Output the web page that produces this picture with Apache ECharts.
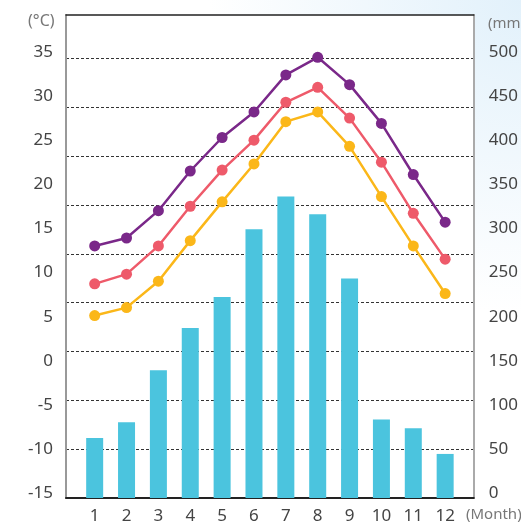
<!DOCTYPE html>
<html>
<head>
<meta charset="utf-8">
<script src="https://cdn.jsdelivr.net/npm/echarts@6/dist/echarts.min.js"></script>
<style>
  html, body { margin: 0; padding: 0; background: #fff; }
  #app { width: 521px; height: 531px; }
</style>
</head>
<body>
<div id="app"></div>
<script>
var months = [1, 2, 3, 4, 5, 6, 7, 8, 9, 10, 11, 12];
var tempHigh = [13.6, 14.5, 17.6, 22.1, 25.9, 28.8, 33.0, 35.0, 31.9, 27.5, 21.7, 16.3];
var tempMid = [9.3, 10.4, 13.6, 18.1, 22.2, 25.6, 29.9, 31.6, 28.1, 23.1, 17.3, 12.1];
var tempLow = [5.7, 6.6, 9.6, 14.2, 18.6, 22.9, 27.7, 28.8, 24.9, 19.2, 13.6, 8.2];
var rainfall = [68, 86, 145, 193, 228, 305, 342, 322, 249, 89, 79, 50];
var tempTicks = [-15, -10, -5, 0, 5, 10, 15, 20, 25, 30, 35];
var rainTicks = [0, 50, 100, 150, 200, 250, 300, 350, 400, 450, 500];

var chartDom = document.getElementById("app");
var myChart = echarts.init(chartDom);
var labelFont = "Noto Sans";

function pairs(values) {
  return months.map(function (m, i) {
    return [m, values[i]];
  });
}

function lineSeries(values, color) {
  return {
    type: "line",
    xAxisIndex: 0,
    yAxisIndex: 0,
    data: pairs(values),
    symbol: "circle",
    symbolSize: 11,
    z: 5,
    itemStyle: { color: color },
    lineStyle: { color: color, width: 2.5 }
  };
}

var option = {
  animation: false,
  backgroundColor: {
    type: "radial",
    x: 1,
    y: 0,
    r: 0.6,
    colorStops: [
      { offset: 0, color: "#e2f1fb" },
      { offset: 1, color: "#ffffff" }
    ]
  },
  grid: {
    left: 66,
    right: 41,
    top: 15,
    bottom: 33,
    show: true,
    backgroundColor: "#fff",
    borderWidth: 0
  },
  xAxis: [
    {
      type: "value",
      position: "bottom",
      min: 0.1,
      max: 12.9,
      axisLine: { onZero: false, lineStyle: { color: "#222", width: 2 } },
      axisTick: { show: false },
      splitLine: { show: false },
      axisLabel: {
        customValues: months,
        fontFamily: labelFont,
        fontSize: 17,
        color: "#444",
        margin: 10
      }
    },
    {
      type: "value",
      position: "top",
      min: 0.1,
      max: 12.9,
      axisLine: { onZero: false, lineStyle: { color: "#222", width: 1.5 } },
      axisTick: { show: false },
      axisLabel: { show: false },
      splitLine: { show: false }
    }
  ],
  yAxis: [
    {
      type: "value",
      position: "left",
      min: -15,
      max: 39.8,
      axisLine: { show: true, onZero: false, lineStyle: { color: "#999", width: 2 } },
      axisTick: { show: false },
      splitLine: { show: false },
      axisLabel: {
        customValues: tempTicks,
        fontFamily: labelFont,
        fontSize: 17,
        color: "#444",
        margin: 13,
        verticalAlign: "bottom",
        lineHeight: 10
      }
    },
    {
      type: "value",
      position: "right",
      min: 0,
      max: 548,
      axisLine: { show: true, onZero: false, lineStyle: { color: "#aaa", width: 2 } },
      axisTick: { show: false },
      splitLine: { show: false },
      axisLabel: {
        customValues: rainTicks,
        fontFamily: labelFont,
        fontSize: 17,
        color: "#444",
        margin: 15,
        verticalAlign: "bottom",
        lineHeight: 10
      }
    },
    {
      // only the dashed guide lines
      type: "value",
      position: "left",
      min: 0,
      max: 9.89,
      interval: 1,
      axisLine: { show: false },
      axisTick: { show: false },
      axisLabel: { show: false },
      splitLine: {
        show: true,
        showMinLine: false,
        showMaxLine: false,
        lineStyle: { color: "#333", type: [3, 2], width: 1 }
      }
    }
  ],
  graphic: [
    {
      type: "text",
      left: 28,
      top: 13,
      style: { text: "(°C)", font: "16px " + labelFont, fill: "#777" }
    },
    {
      type: "text",
      left: 488,
      top: 16,
      style: { text: "(mm)", font: "15px " + labelFont, fill: "#777" }
    },
    {
      type: "text",
      left: 466,
      top: 507,
      style: { text: "(Month)", font: "15px " + labelFont, fill: "#777" }
    }
  ],
  series: [
    {
      type: "bar",
      xAxisIndex: 0,
      yAxisIndex: 1,
      data: pairs(rainfall),
      barWidth: 17,
      z: 2,
      itemStyle: { color: "#4bc4de" }
    },
    lineSeries(tempHigh, "#7a2889"),
    lineSeries(tempMid, "#ee5a6a"),
    lineSeries(tempLow, "#fbb719")
  ]
};

option && myChart.setOption(option);
</script>
</body>
</html>
